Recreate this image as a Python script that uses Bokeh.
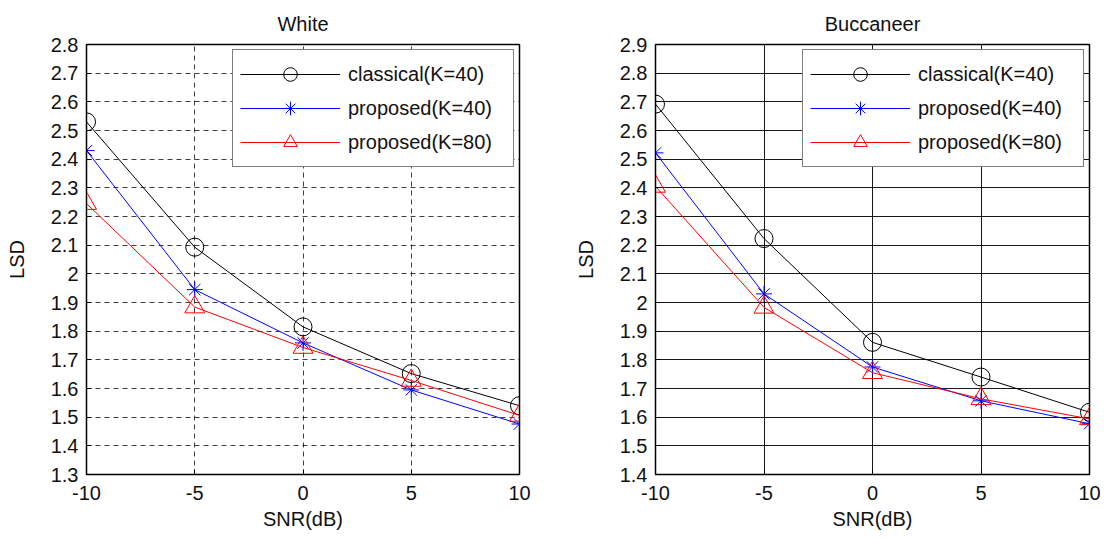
from bokeh.plotting import figure
from bokeh.models import Range1d, FixedTicker, Legend, LegendItem
from bokeh.layouts import row
from bokeh.embed import file_html
from bokeh.resources import INLINE

# ---------------- data ----------------
snr = [-10, -5, 0, 5, 10]
x_ticks = [-10, -5, 0, 5, 10]
x_tick_labels = ["-10", "-5", "0", "5", "10"]

series_names = ["classical(K=40)", "proposed(K=40)", "proposed(K=80)"]

white_classical = [2.53, 2.093, 1.815, 1.652, 1.54]
white_prop40 = [2.43, 1.945, 1.759, 1.595, 1.476]
white_prop80 = [2.245, 1.884, 1.743, 1.628, 1.506]

bucc_classical = [2.692, 2.223, 1.861, 1.74, 1.617]
bucc_prop40 = [2.522, 2.03, 1.775, 1.657, 1.577]
bucc_prop80 = [2.405, 1.983, 1.755, 1.664, 1.594]

white_y_ticks = [1.3, 1.4, 1.5, 1.6, 1.7, 1.8, 1.9, 2.0, 2.1, 2.2, 2.3, 2.4, 2.5, 2.6, 2.7, 2.8]
white_y_labels = ["1.3", "1.4", "1.5", "1.6", "1.7", "1.8", "1.9", "2", "2.1", "2.2", "2.3", "2.4", "2.5", "2.6", "2.7", "2.8"]
bucc_y_ticks = [1.4, 1.5, 1.6, 1.7, 1.8, 1.9, 2.0, 2.1, 2.2, 2.3, 2.4, 2.5, 2.6, 2.7, 2.8, 2.9]
bucc_y_labels = ["1.4", "1.5", "1.6", "1.7", "1.8", "1.9", "2", "2.1", "2.2", "2.3", "2.4", "2.5", "2.6", "2.7", "2.8", "2.9"]

FONT = "Liberation Sans"
FS = "20px"


def style_axis(ax, ticks, labels):
    ax.ticker = FixedTicker(ticks=ticks)
    ax.major_label_overrides = {t: l for t, l in zip(ticks, labels)}
    ax.major_tick_in = 5
    ax.major_tick_out = 0
    ax.minor_tick_in = 0
    ax.minor_tick_out = 0
    ax.axis_line_color = "black"
    ax.major_tick_line_color = "black"
    ax.major_label_text_font = FONT
    ax.major_label_text_color = "#111111"
    ax.major_label_text_font_size = FS
    ax.axis_label_text_font = FONT
    ax.axis_label_text_font_style = "normal"
    ax.axis_label_text_font_size = FS
    ax.axis_label_text_color = "#111111"


def make_panel(title, ys, yticks, ylabels, width, height, borders, grid_dash):
    bl, br, bt, bb = borders
    p = figure(width=width, height=height, output_backend="svg", toolbar_location=None,
               x_range=Range1d(-10, 10), y_range=Range1d(yticks[0], yticks[-1]),
               min_border_left=bl, min_border_right=br, min_border_top=bt, min_border_bottom=bb,
               title=title)
    p.title.align = "center"
    p.title.text_font = FONT
    p.title.text_font_style = "normal"
    p.title.text_font_size = FS
    p.title.text_color = "#111111"
    p.title.standoff = 20
    p.outline_line_color = "black"
    p.outline_line_width = 1.5
    p.outline_line_alpha = 1

    style_axis(p.xaxis[0], x_ticks, x_tick_labels)
    style_axis(p.yaxis[0], yticks, ylabels)
    p.xaxis[0].axis_label = "SNR(dB)"
    p.yaxis[0].axis_label = "LSD"
    p.xaxis[0].major_label_standoff = 11
    p.xaxis[0].axis_label_standoff = 5
    p.yaxis[0].major_label_standoff = 8
    p.yaxis[0].axis_label_standoff = 20

    p.xgrid[0].ticker = FixedTicker(ticks=x_ticks)
    p.ygrid[0].ticker = FixedTicker(ticks=yticks)
    for g in (p.xgrid[0], p.ygrid[0]):
        g.grid_line_color = "black"
        g.grid_line_width = 1
        if grid_dash:
            g.grid_line_dash = "5 4"
            g.grid_line_alpha = 0.75
        else:
            g.grid_line_alpha = 0.9

    colors = ["black", "blue", "red"]
    markers = ["circle", "asterisk", "triangle"]
    sizes = [18, 16, 20]
    items = []
    for y, c, m, s, name in zip(ys, colors, markers, sizes, series_names):
        ln = p.line(snr, y, line_color=c, line_width=1)
        sc = p.scatter(snr, y, marker=m, size=s, line_color=c, fill_color=None, line_width=1)
        items.append(LegendItem(label=name, renderers=[ln, sc]))

    legend = Legend(items=items, location="top_right")
    legend.label_text_font = FONT
    legend.label_text_font_size = FS
    legend.label_text_color = "#111111"
    legend.border_line_color = "black"
    legend.border_line_width = 1.5
    legend.background_fill_color = "white"
    legend.background_fill_alpha = 1
    legend.glyph_width = 100
    legend.glyph_height = 34
    legend.label_height = 34
    legend.spacing = 0
    legend.padding = 7
    legend.margin = 5
    legend.label_standoff = 8
    legend.label_width = 158
    p.add_layout(legend)
    return p


p1 = make_panel("White", [white_classical, white_prop40, white_prop80],
                white_y_ticks, white_y_labels, 568, 537, (86, 49, 44, 63), True)
p2 = make_panel("Buccaneer", [bucc_classical, bucc_prop40, bucc_prop80],
                bucc_y_ticks, bucc_y_labels, 537, 537, (87, 16, 42, 60), False)

layout = row(p1, p2)
open("out.html", "w").write(file_html(layout, INLINE))
